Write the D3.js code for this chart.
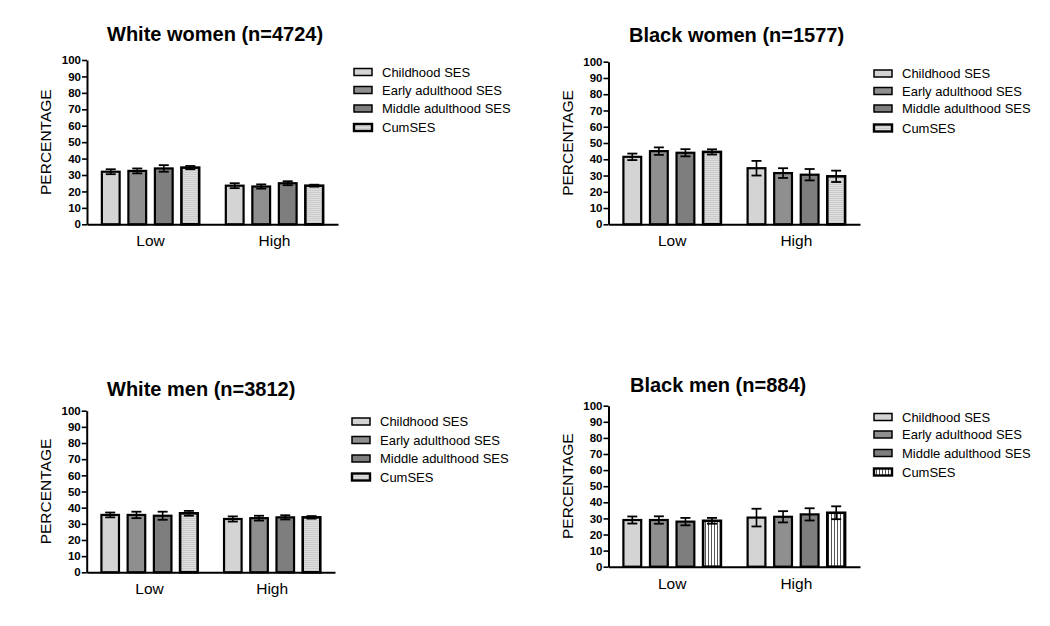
<!DOCTYPE html>
<html><head><meta charset="utf-8">
<script src="https://cdn.jsdelivr.net/npm/d3@7"></script>
<style>body{margin:0;background:#fff}svg{display:block}text{font-family:"Liberation Sans",Arial,sans-serif}</style>
</head><body><svg id="c" width="1050" height="626"></svg>
<script>
const categories = ["Low", "High"];
const series = ["Childhood SES", "Early adulthood SES", "Middle adulthood SES", "CumSES"];
const yTicks = [0, 10, 20, 30, 40, 50, 60, 70, 80, 90, 100];
const titles = ["White women (n=4724)", "Black women (n=1577)", "White men (n=3812)", "Black men (n=884)"];

// values [category][series]
const whiteWomenValues = [[32, 32.5, 34, 34.5], [23.5, 23, 25, 23.5]];
const whiteWomenErrors = [[1.5, 1.5, 2, 1], [1.5, 1.3, 1.2, 0.6]];
const blackWomenValues = [[41.5, 45, 44, 44.5], [34.5, 31.5, 30.5, 29.5]];
const blackWomenErrors = [[2, 2.3, 2.2, 1.6], [4.5, 3, 3.5, 3.5]];
const whiteMenValues = [[35.5, 35.5, 35, 36.5], [33, 33.5, 34, 34]];
const whiteMenErrors = [[1.5, 2, 2.5, 1.5], [1.6, 1.5, 1.3, 0.8]];
const blackMenValues = [[29, 29, 28, 28.5], [30.5, 31, 32.5, 33.5]];
const blackMenErrors = [[2.2, 2.3, 2.3, 1.8], [5.5, 3.5, 3.8, 4]];

const panels = [
  {title: titles[0], values: whiteWomenValues, errors: whiteWomenErrors, x0: 87, x1: 338, yTop: 60, yBot: 224.3, titleX: 107, titleY: 41, legX: 353, legY: [72, 90, 108.5, 127.5], pattern: "hstripe"},
  {title: titles[1], values: blackWomenValues, errors: blackWomenErrors, x0: 608.5, x1: 860, yTop: 61.7, yBot: 224.3, titleX: 629, titleY: 42, legX: 873, legY: [73.5, 91, 108.5, 128], pattern: "hstripe"},
  {title: titles[2], values: whiteMenValues, errors: whiteMenErrors, x0: 86.7, x1: 335, yTop: 410.7, yBot: 572.3, titleX: 107, titleY: 396, legX: 351, legY: [421.5, 440, 458.5, 477], pattern: "hstripe"},
  {title: titles[3], values: blackMenValues, errors: blackMenErrors, x0: 608.5, x1: 860, yTop: 405.7, yBot: 566.7, titleX: 630, titleY: 392, legX: 873, legY: [417, 434.5, 453, 472], pattern: "vstripe"}
];

const svg = d3.select("#c");
const defs = svg.append("defs");
const hp = defs.append("pattern").attr("id", "hstripe").attr("patternUnits", "userSpaceOnUse").attr("width", 4).attr("height", 2);
hp.append("rect").attr("width", 4).attr("height", 2).attr("fill", "#dedede");
hp.append("rect").attr("width", 4).attr("height", 1).attr("fill", "#cbcbcb");
const vp = defs.append("pattern").attr("id", "vstripe").attr("patternUnits", "userSpaceOnUse").attr("width", 3).attr("height", 4);
vp.append("rect").attr("width", 3).attr("height", 4).attr("fill", "#fff");
vp.append("rect").attr("width", 1).attr("height", 4).attr("fill", "#555");

const solidFills = ["#d4d4d4", "#8f8f8f", "#7e7e7e"];
function fillFor(i, pat) { return i < 3 ? solidFills[i] : "url(#" + pat + ")"; }

panels.forEach(p => {
  const g = svg.append("g");
  const y = d3.scaleLinear().domain([0, 100]).range([p.yBot, p.yTop]);
  const x = d3.scaleBand().domain(categories).range([p.x0, p.x1]).paddingInner(0.215).paddingOuter(0.12);
  const xs = d3.scaleBand().domain(series).range([0, x.bandwidth()]).paddingInner(0.33);

  g.append("text").attr("x", p.titleX).attr("y", p.titleY).attr("font-size", 20).attr("font-weight", "bold").attr("fill", "#000").text(p.title);

  categories.forEach((c, ci) => {
    series.forEach((s, si) => {
      const v = p.values[ci][si], e = p.errors[ci][si];
      const bx = x(c) + xs(s), bw = xs.bandwidth();
      g.append("rect").attr("x", bx).attr("y", y(v)).attr("width", bw).attr("height", y(0) - y(v))
        .attr("fill", fillFor(si, p.pattern)).attr("stroke", "#000").attr("stroke-width", si === 3 ? 2.6 : 2.2);
      const cx = bx + bw / 2;
      g.append("line").attr("x1", cx).attr("x2", cx).attr("y1", y(v + e)).attr("y2", y(v - e)).attr("stroke", "#000").attr("stroke-width", 1.6);
      [v + e, v - e].forEach(t => g.append("line").attr("x1", cx - 5).attr("x2", cx + 5).attr("y1", y(t)).attr("y2", y(t)).attr("stroke", "#000").attr("stroke-width", 1.8));
    });
  });

  const ya = g.append("g").attr("transform", `translate(${p.x0},0)`)
    .call(d3.axisLeft(y).tickValues(yTicks).tickSize(5).tickPadding(1).tickSizeOuter(0));
  ya.select(".domain").attr("stroke-width", 2).attr("stroke", "#000");
  ya.selectAll(".tick line").attr("stroke-width", 1.6).attr("stroke", "#000");
  ya.selectAll(".tick text").attr("font-size", 11.5).attr("font-weight", "bold").attr("fill", "#000")
    .attr("font-family", '"Liberation Sans",Arial,sans-serif');

  const xa = g.append("g").attr("transform", `translate(0,${p.yBot})`)
    .call(d3.axisBottom(x).tickSize(0).tickPadding(11).tickSizeOuter(0));
  xa.select(".domain").attr("stroke-width", 2).attr("stroke", "#000");
  xa.selectAll(".tick text").attr("font-size", 15.5).attr("fill", "#000").attr("dy", "0.71em")
    .attr("font-family", '"Liberation Sans",Arial,sans-serif');

  const my = (p.yTop + p.yBot) / 2;
  g.append("text").attr("transform", `translate(${p.x0 - 36},${my}) rotate(-90)`).attr("text-anchor", "middle")
    .attr("font-size", 15.5).attr("fill", "#000").text("PERCENTAGE");

  series.forEach((s, si) => {
    const ly = p.legY[si];
    g.append("rect").attr("x", p.legX + 1).attr("y", ly - 3.5).attr("width", 18).attr("height", 7)
      .attr("fill", fillFor(si, p.pattern)).attr("stroke", "#000").attr("stroke-width", si === 3 ? 2.4 : 1.5);
    g.append("text").attr("x", p.legX + 29).attr("y", ly).attr("dy", "0.35em").attr("font-size", 13).attr("fill", "#000").text(s);
  });
});
</script></body></html>
